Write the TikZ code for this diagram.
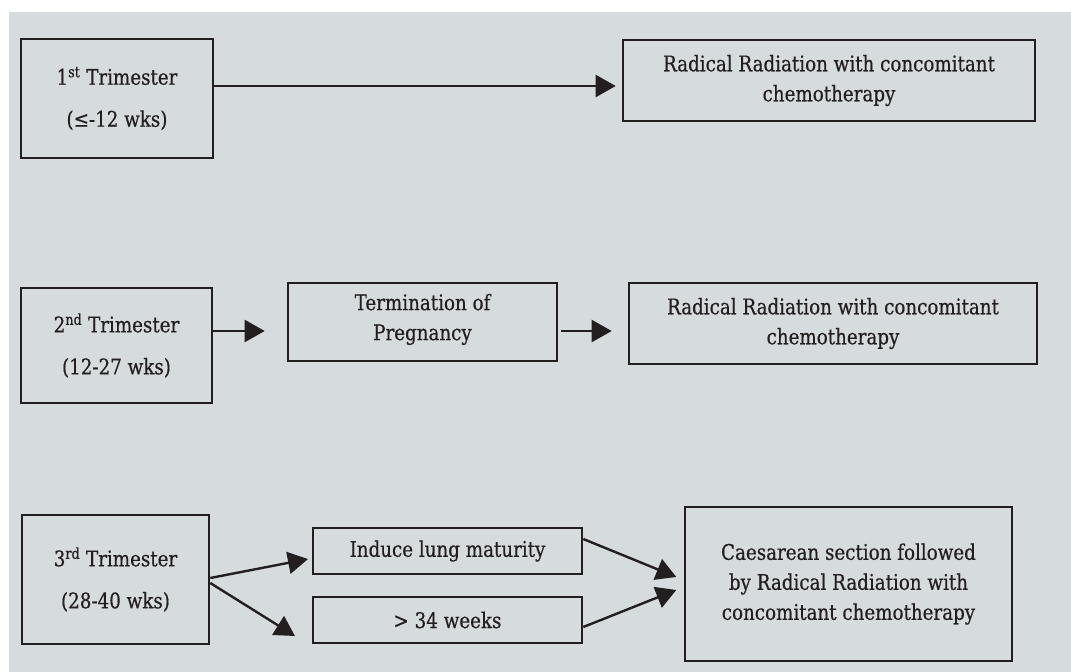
\documentclass[tikz,border=0pt]{standalone}
\usepackage{fontspec}
\setmainfont{DejaVu Serif}[FakeStretch=0.85, FakeBold=0.5]
\usetikzlibrary{arrows.meta}
\definecolor{bg}{HTML}{D6DBDE}
\definecolor{ink}{HTML}{231F20}
\begin{document}
\begin{tikzpicture}[x=1pt,y=-1pt,
  box/.style={draw=ink, line width=2.6pt, rectangle, inner sep=0pt, align=center, text=ink, font=\fontsize{21.5}{30}\selectfont},
  tri/.style={box, font=\fontsize{21.5}{42}\selectfont},
  arr/.style={draw=ink, line width=2.4pt, -{Triangle[length=20pt,width=22pt]}},
]
\useasboundingbox (0,0) rectangle (1071,672);
\fill[white] (0,0) rectangle (1071,672);
\fill[bg] (9,12) rectangle (1071,672);

% row 1
\node[tri, minimum width=192pt, minimum height=119pt] (b1) at (117,98.5) {1\textsuperscript{st} Trimester\\(≤-12 wks)};
\node[box, minimum width=412pt, minimum height=81pt] (r1) at (829,80.5) {Radical Radiation with concomitant\\chemotherapy};
\draw[arr, shorten >=6pt] (b1.east |- 0,86) -- (r1.west |- 0,86);

% row 2
\node[tri, minimum width=191pt, minimum height=115pt] (b2) at (116.5,345.5) {2\textsuperscript{nd} Trimester\\(12-27 wks)};
\node[box, minimum width=269pt, minimum height=78pt, text depth=10pt] (t) at (422.5,322) {Termination of\\Pregnancy};
\node[box, minimum width=408pt, minimum height=81pt] (r2) at (833,323.5) {Radical Radiation with concomitant\\chemotherapy};
\draw[arr, shorten >=22pt] (b2.east |- 0,331) -- (t.west |- 0,331);
\draw[arr, shorten <=3pt, shorten >=16pt] (t.east |- 0,331) -- (r2.west |- 0,331);

% row 3
\node[tri, minimum width=187pt, minimum height=129pt] (b3) at (115.5,579.5) {3\textsuperscript{rd} Trimester\\(28-40 wks)};
\node[box, minimum width=269pt, minimum height=46pt] (ind) at (447.5,551) {Induce lung maturity};
\node[box, minimum width=269pt, minimum height=46pt] (w34) at (447.5,620) {> 34 weeks};
\node[box, minimum width=327pt, minimum height=154pt] (c) at (848.5,584) {Caesarean section followed\\by Radical Radiation with\\concomitant chemotherapy};
\coordinate (a1) at (308,559);
\coordinate (a2) at (295,636);
\draw[arr] (b3.east |- 0,578) -- (a1);
\draw[arr] (b3.east |- 0,583) -- (a2);
\draw[arr, shorten >=8pt] (ind.east |- 0,539) -- (c.west |- 0,580);
\draw[arr, shorten >=8pt] (w34.east |- 0,627) -- (c.west |- 0,587);
\end{tikzpicture}
\end{document}
